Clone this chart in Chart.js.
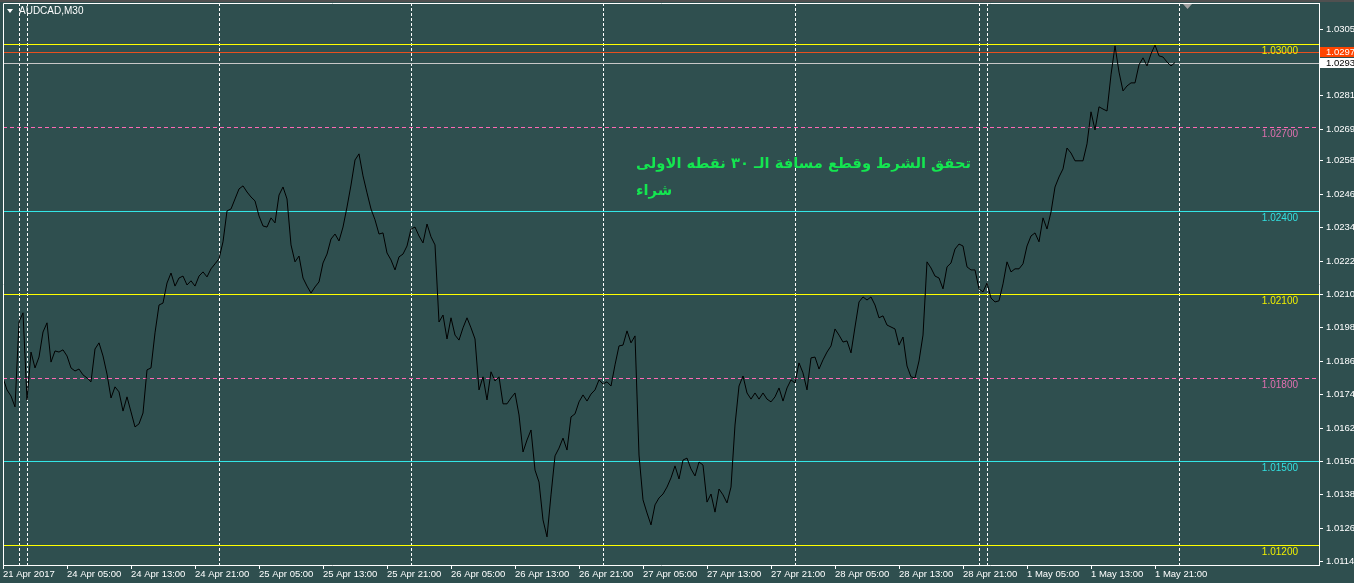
<!DOCTYPE html>
<html>
<head>
<meta charset="utf-8">
<script src="https://cdn.jsdelivr.net/npm/chart.js@4.4.1/dist/chart.umd.min.js"></script>
<style>
  html, body { margin: 0; padding: 0; background: #2f4f4f; overflow: hidden; }
  #wrap { width: 1354px; height: 583px; position: relative; }
</style>
</head>
<body>
<div id="wrap"><canvas id="chart"></canvas></div>
<script>
// AUDCAD M30, one close per bar, bar 0 = 21 Apr 2017 21:00
const symbolTitle = 'AUDCAD,M30';

const xTickLabels = [
  '21 Apr 2017', '24 Apr 05:00', '24 Apr 13:00', '24 Apr 21:00', '25 Apr 05:00',
  '25 Apr 13:00', '25 Apr 21:00', '26 Apr 05:00', '26 Apr 13:00', '26 Apr 21:00',
  '27 Apr 05:00', '27 Apr 13:00', '27 Apr 21:00', '28 Apr 05:00', '28 Apr 13:00',
  '28 Apr 21:00', '1 May 05:00', '1 May 13:00', '1 May 21:00'
];
const barsPerTick = 16;

const closes = [
  1.01800, 1.01757, 1.01735, 1.01696, 1.02001, 1.02034, 1.01721, 1.01893, 1.01836, 1.01875,
  1.01965, 1.01998, 1.01857, 1.01897, 1.01893, 1.01901, 1.01879, 1.01836, 1.01825, 1.01832,
  1.01811, 1.01800, 1.01786, 1.01904, 1.01926, 1.01879, 1.01814, 1.01728, 1.01768, 1.01750,
  1.01681, 1.01732, 1.01678, 1.01624, 1.01635, 1.01674, 1.01829, 1.01836, 1.01962, 1.02062,
  1.02069, 1.02141, 1.02177, 1.02130, 1.02159, 1.02166, 1.02134, 1.02149, 1.02130, 1.02166,
  1.02181, 1.02163, 1.02192, 1.02210, 1.02228, 1.02289, 1.02400, 1.02407, 1.02443, 1.02479,
  1.02490, 1.02468, 1.02450, 1.02436, 1.02382, 1.02346, 1.02342, 1.02375, 1.02357, 1.02457,
  1.02486, 1.02443, 1.02278, 1.02217, 1.02238, 1.02159, 1.02130, 1.02105, 1.02127, 1.02145,
  1.02213, 1.02245, 1.02299, 1.02317, 1.02292, 1.02342, 1.02414, 1.02493, 1.02583, 1.02605,
  1.02526, 1.02465, 1.02407, 1.02368, 1.02317, 1.02321, 1.02249, 1.02224, 1.02188, 1.02235,
  1.02245, 1.02274, 1.02335, 1.02342, 1.02310, 1.02285, 1.02353, 1.02307, 1.02278, 1.02001,
  1.02026, 1.01940, 1.02016, 1.01954, 1.01936, 1.01980, 1.02016, 1.01980, 1.01940, 1.01757,
  1.01804, 1.01721, 1.01822, 1.01789, 1.01804, 1.01707, 1.01707, 1.01728, 1.01746, 1.01667,
  1.01534, 1.01577, 1.01613, 1.01469, 1.01426, 1.01290, 1.01229, 1.01380, 1.01520, 1.01548,
  1.01584, 1.01541, 1.01660, 1.01671, 1.01714, 1.01739, 1.01717, 1.01742, 1.01757, 1.01793,
  1.01778, 1.01786, 1.01771, 1.01847, 1.01915, 1.01918, 1.01969, 1.01926, 1.01951, 1.01523,
  1.01362, 1.01315, 1.01272, 1.01344, 1.01369, 1.01383, 1.01408, 1.01441, 1.01484, 1.01437,
  1.01505, 1.01512, 1.01473, 1.01448, 1.01498, 1.01487, 1.01354, 1.01383, 1.01318, 1.01401,
  1.01380, 1.01351, 1.01408, 1.01631, 1.01771, 1.01807, 1.01746, 1.01724, 1.01746, 1.01724,
  1.01746, 1.01724, 1.01714, 1.01732, 1.01764, 1.01717, 1.01764, 1.01793, 1.01782, 1.01854,
  1.01818, 1.01757, 1.01872, 1.01875, 1.01832, 1.01865, 1.01893, 1.01915, 1.01976, 1.01954,
  1.01929, 1.01933, 1.01890, 1.01983, 1.02073, 1.02091, 1.02080, 1.02091, 1.02062, 1.02016,
  1.02023, 1.01990, 1.01983, 1.01976, 1.01918, 1.01947, 1.01843, 1.01804, 1.01800, 1.01861,
  1.01954, 1.02217, 1.02195, 1.02166, 1.02159, 1.02120, 1.02199, 1.02213, 1.02263, 1.02281,
  1.02274, 1.02199, 1.02188, 1.02188, 1.02120, 1.02109, 1.02141, 1.02087, 1.02073, 1.02077,
  1.02138, 1.02217, 1.02181, 1.02192, 1.02192, 1.02210, 1.02274, 1.02310, 1.02321, 1.02289,
  1.02375, 1.02335, 1.02396, 1.02486, 1.02522, 1.02551, 1.02626, 1.02608, 1.02580, 1.02580,
  1.02580, 1.02641, 1.02756, 1.02691, 1.02774, 1.02766, 1.02759, 1.02889, 1.02993, 1.02899,
  1.02831, 1.02849, 1.02860, 1.02860, 1.02925, 1.02950, 1.02921, 1.02964, 1.02996, 1.02957,
  1.02953, 1.02935, 1.02921, 1.02933
];

const yTickValues = [
  1.01140, 1.01260, 1.01380, 1.01500, 1.01620, 1.01740, 1.01860, 1.01980, 1.02100,
  1.02220, 1.02340, 1.02460, 1.02580, 1.02693, 1.02815, 1.02933, 1.03053
];

// horizontal level lines drawn on the chart
const levelValues = [1.03000, 1.02700, 1.02400, 1.02100, 1.01800, 1.01500, 1.01200];
const levelKinds  = ['yellow', 'pink', 'cyan', 'yellow', 'pink', 'cyan', 'yellow'];

// vertical dashed lines, by bar index
const separatorBars = [4, 6, 54, 102, 150, 198, 244, 246, 294];

const askPrice = 1.02971;
const bidPrice = 1.02933;

const noteLines = ['تحقق الشرط وقطع مسافة الـ ٣٠ نقطه الاولى', 'شراء'];

const levelLook = {
  yellow: { line: '#ffff00', text: '#f0f000', dash: [] },
  pink:   { line: '#ff69b4', text: '#e070b0', dash: [4, 3] },
  cyan:   { line: '#33e6e6', text: '#33e0e0', dash: [] }
};

const BG = '#2f4f4f';
const AXIS_FONT = { family: 'Liberation Sans, Arial, sans-serif', size: 9.5 };

const mtPlugin = {
  id: 'mt',
  beforeDraw(chart) {
    const { ctx, width, height } = chart;
    ctx.save();
    ctx.fillStyle = BG;
    ctx.fillRect(0, 0, width, height);
    ctx.fillStyle = '#505050';
    ctx.fillRect(0, 0, width, 2);
    ctx.restore();
  },
  beforeDatasetsDraw(chart) {
    const { ctx, chartArea: a, scales: { x, y } } = chart;
    ctx.save();
    ctx.beginPath();
    ctx.rect(a.left, a.top, a.right - a.left, a.bottom - a.top);
    ctx.clip();
    ctx.lineWidth = 1;

    // day separators
    ctx.strokeStyle = '#ffffff';
    ctx.setLineDash([3, 2]);
    separatorBars.forEach(b => {
      const px = Math.round(x.getPixelForValue(b)) + 0.5;
      ctx.beginPath();
      ctx.moveTo(px, a.top);
      ctx.lineTo(px, a.bottom);
      ctx.stroke();
    });

    // levels
    levelValues.forEach((v, i) => {
      const look = levelLook[levelKinds[i]];
      const py = Math.round(y.getPixelForValue(v)) + 0.5;
      ctx.strokeStyle = look.line;
      ctx.setLineDash(look.dash);
      ctx.beginPath();
      ctx.moveTo(a.left, py);
      ctx.lineTo(a.right, py);
      ctx.stroke();
    });

    // ask / bid lines
    ctx.setLineDash([]);
    [[askPrice, '#e8501e'], [bidPrice, '#c8c8c8']].forEach(([v, c]) => {
      const py = Math.round(y.getPixelForValue(v)) + 0.5;
      ctx.strokeStyle = c;
      ctx.beginPath();
      ctx.moveTo(a.left, py);
      ctx.lineTo(a.right, py);
      ctx.stroke();
    });
    ctx.restore();
  },
  afterDraw(chart) {
    const { ctx, chartArea: a, scales: { x, y } } = chart;
    ctx.save();

    // frame top/left
    ctx.strokeStyle = '#ffffff';
    ctx.lineWidth = 1;
    ctx.beginPath();
    ctx.moveTo(a.left + 0.5, a.bottom);
    ctx.lineTo(a.left + 0.5, a.top + 0.5);
    ctx.lineTo(a.right, a.top + 0.5);
    ctx.stroke();

    // level labels
    ctx.font = '10px "Liberation Sans", Arial, sans-serif';
    ctx.textAlign = 'right';
    ctx.textBaseline = 'top';
    levelValues.forEach((v, i) => {
      const look = levelLook[levelKinds[i]];
      const py = Math.round(y.getPixelForValue(v));
      ctx.fillStyle = look.text;
      ctx.fillText(v.toFixed(5), 1298, py + 2);
    });

    // ask / bid boxes on the price axis
    ctx.font = '9.5px "Liberation Sans", Arial, sans-serif';
    ctx.textAlign = 'left';
    ctx.textBaseline = 'middle';
    [[askPrice, '#ff4500', '#ffffff'], [bidPrice, '#ffffff', '#000000']].forEach(([v, bg, fg]) => {
      const py = Math.round(y.getPixelForValue(v));
      ctx.fillStyle = bg;
      ctx.fillRect(a.right + 1, py - 5, chart.width - a.right - 1, 10);
      ctx.fillStyle = fg;
      ctx.fillText(v.toFixed(5), a.right + 7, py + 0.5);
    });

    // title
    ctx.fillStyle = '#ffffff';
    ctx.beginPath();
    ctx.moveTo(7, 9);
    ctx.lineTo(13, 9);
    ctx.lineTo(10, 13);
    ctx.closePath();
    ctx.fill();
    ctx.font = '10px "Liberation Sans", Arial, sans-serif';
    ctx.textBaseline = 'middle';
    ctx.fillText(symbolTitle, 19, 11.5);

    // chart shift marker
    ctx.fillStyle = '#a0a0a0';
    ctx.beginPath();
    ctx.moveTo(1183, 4);
    ctx.lineTo(1192, 4);
    ctx.lineTo(1187.5, 9);
    ctx.closePath();
    ctx.fill();

    // note text, anchored to bar / price
    const nx = x.getPixelForValue(158.25);
    const ny = y.getPixelForValue(1.02612);
    ctx.fillStyle = '#14e650';
    ctx.font = 'bold 14.7px "DejaVu Sans", sans-serif';
    ctx.direction = 'rtl';
    ctx.textAlign = 'left';
    ctx.textBaseline = 'alphabetic';
    noteLines.forEach((t, i) => {
      ctx.fillText(t, nx, ny + 16 + i * 27);
    });
    ctx.restore();
  }
};

const ctx = document.getElementById('chart').getContext('2d');
new Chart(ctx, {
  type: 'line',
  data: {
    datasets: [{
      data: closes.map((v, i) => ({ x: i, y: v })),
      borderColor: '#000000',
      borderWidth: 1,
      pointRadius: 0,
      tension: 0,
      fill: false
    }]
  },
  options: {
    responsive: true,
    maintainAspectRatio: false,
    animation: false,
    events: [],
    layout: { padding: { left: 3, top: 3, right: 0, bottom: 0 } },
    plugins: {
      legend: { display: false },
      tooltip: { enabled: false }
    },
    scales: {
      x: {
        type: 'linear',
        min: 0,
        max: 329,
        afterBuildTicks: (scale) => {
          scale.ticks = xTickLabels.map((_, k) => ({ value: k * barsPerTick }));
        },
        afterFit: (scale) => {
          scale.height = 18;
          scale.paddingLeft = 0;
          scale.paddingRight = 0;
        },
        grid: {
          drawOnChartArea: false,
          drawTicks: true,
          tickLength: 4,
          tickColor: '#ffffff'
        },
        border: { display: true, color: '#ffffff', width: 1 },
        ticks: {
          autoSkip: false,
          maxRotation: 0,
          minRotation: 0,
          align: 'start',
          padding: 0,
          color: '#ffffff',
          font: AXIS_FONT,
          callback: (value, index) => xTickLabels[index]
        }
      },
      y: {
        type: 'linear',
        position: 'right',
        min: 1.01128,
        max: 1.03147,
        afterBuildTicks: (scale) => {
          scale.ticks = yTickValues.map(v => ({ value: v }));
        },
        afterFit: (scale) => {
          scale.width = 35;
          scale.paddingTop = 0;
          scale.paddingBottom = 0;
        },
        grid: {
          drawOnChartArea: false,
          drawTicks: true,
          tickLength: 4,
          tickColor: '#ffffff'
        },
        border: { display: true, color: '#ffffff', width: 1 },
        ticks: {
          padding: 3,
          color: '#ffffff',
          font: AXIS_FONT,
          callback: (value) => Number(value).toFixed(5)
        }
      }
    }
  },
  plugins: [mtPlugin]
});
</script>
</body>
</html>
